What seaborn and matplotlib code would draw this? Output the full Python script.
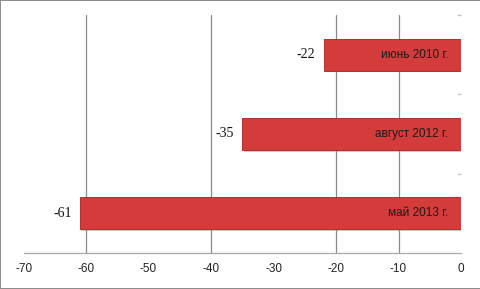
import matplotlib
matplotlib.use("Agg")
import matplotlib.pyplot as plt
import matplotlib.patheffects as pe
import seaborn as sns
import pandas as pd
from matplotlib.ticker import FixedLocator

categories = ["июнь 2010 г.", "август 2012 г.", "май 2013 г."]
values = [-22, -35, -61]
xticks = [-70, -60, -50, -40, -30, -20, -10, 0]
grid_at = [-60, -40, -20, -10]

df = pd.DataFrame({"cat": categories, "val": values})

sns.set_theme(style="white")
plt.rcParams["font.family"] = ["Liberation Sans", "DejaVu Sans"]

fig = plt.figure(figsize=(4.81, 2.89), dpi=100, linewidth=1.2, edgecolor="#8c8c8c")
ax = fig.add_axes([0.049, 0.1246, 0.9095, 0.8235])

for g in grid_at:
    ax.axvline(g, color="#8a8a8a", lw=0.9, zorder=0)

sns.barplot(data=df, x="val", y="cat", order=categories, orient="h",
            color="#d43c3c", width=0.4, ax=ax, saturation=1,
            edgecolor="#b23030", linewidth=0.7, zorder=3)

for p in ax.patches:
    p.set_path_effects([pe.SimplePatchShadow(offset=(1.2, -1.2), shadow_rgbFace="#888888", alpha=0.45), pe.Normal()])

ax.set_xlim(-70, 0)
ax.set_ylim(2.5, -0.5)
ax.xaxis.set_major_locator(FixedLocator(xticks))
ax.set_xticklabels([str(t) for t in xticks], fontsize=8.5, color="#222222")
ax.set_yticks([])
ax.set_xlabel("")
ax.set_ylabel("")

for s in ["top", "left", "right"]:
    ax.spines[s].set_visible(False)
ax.spines["bottom"].set_color("#a8a8a8")
ax.spines["bottom"].set_linewidth(0.9)
ax.tick_params(axis="x", length=3, color="#a8a8a8", pad=4)

# category boundary ticks on the right (x=0 axis)
ax2 = ax.twinx()
ax2.set_ylim(2.5, -0.5)
ax2.yaxis.set_major_locator(FixedLocator([-0.5, 0.5, 1.5]))
ax2.set_yticklabels([])
ax2.tick_params(axis="y", direction="in", length=3, color="#c8c8c8", width=1)
for s in ax2.spines.values():
    s.set_visible(False)

for i, (c, v) in enumerate(zip(categories, values)):
    ax.text(-2, i, c, ha="right", va="center", fontsize=8.5, color="#1a1a1a", zorder=5)
    ax.text(v - 1.3, i, str(v), ha="right", va="center", fontsize=10,
            family=["Liberation Serif", "DejaVu Serif"], color="#111111", zorder=5)

fig.savefig("out.png", dpi=100)
